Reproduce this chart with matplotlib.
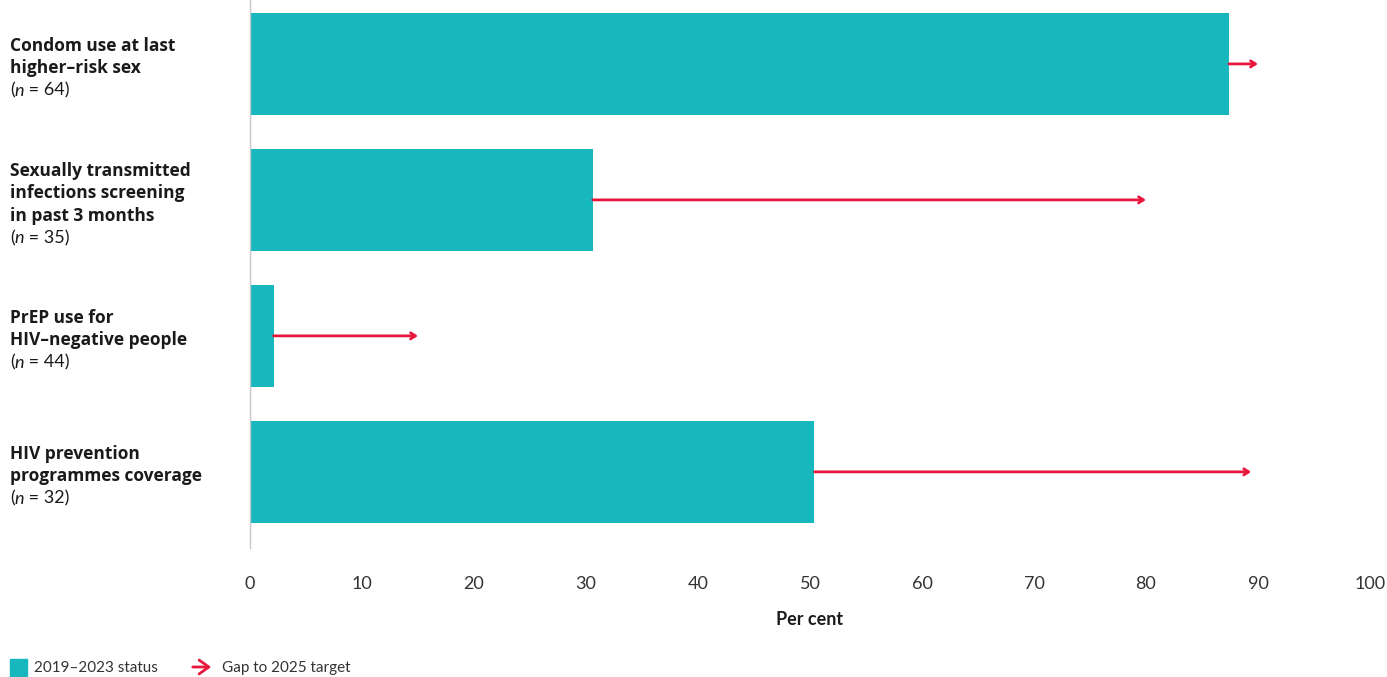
import matplotlib
matplotlib.use('Agg')
import matplotlib.pyplot as plt
from matplotlib.patches import Rectangle, FancyArrowPatch

plt.rcParams['font.family'] = ['Lato', 'DejaVu Sans']

# data
labels = [
    ['Condom use at last', 'higher\u2013risk sex'],
    ['Sexually transmitted', 'infections screening', 'in past 3 months'],
    ['PrEP use for', 'HIV\u2013negative people'],
    ['HIV prevention', 'programmes coverage'],
]
n_values = [64, 35, 44, 32]
status = [87.4, 30.6, 2.1, 50.4]
target = [90, 80, 15, 89.4]

TEAL = '#16B8BD'
RED = '#E8173D'
DARK = '#1a1a1a'

W, H = 1387, 677
fig = plt.figure(figsize=(W / 100, H / 100), dpi=100)
ax = fig.add_axes([250 / W, 1 - 548 / H, (1370 - 250) / W, 548 / H])

ypos = list(range(len(status)))
ax.barh(ypos, status, height=0.75, color=TEAL, zorder=2)
for y, s, t in zip(ypos, status, target):
    ax.annotate('', xy=(t, y), xytext=(s, y),
                arrowprops=dict(arrowstyle='->,head_length=0.35,head_width=0.22',
                                color=RED, lw=2, shrinkA=0, shrinkB=0), zorder=3)

ax.set_xlim(0, 100)
ax.set_ylim(3.56, -0.47)
ax.set_xticks(range(0, 101, 10))
ax.set_yticks([])
ax.tick_params(axis='x', length=0, pad=20, labelsize=13, labelcolor='#333333')
for side in ['top', 'right', 'bottom']:
    ax.spines[side].set_visible(False)
ax.spines['left'].set_color('#c8c8c8')
ax.spines['left'].set_linewidth(1)
ax.set_xlabel('Per cent', fontsize=13, fontweight='bold', color=DARK, labelpad=14)

# category labels on the left
line_h = 16.2  # points
shift = -3.2
for y, lines, n in zip(ypos, labels, n_values):
    total = len(lines) + 1
    for i, line in enumerate(lines):
        off = ((total - 1) / 2 - i) * line_h + shift
        ax.annotate(line, xy=(10, y), xycoords=('figure pixels', 'data'),
                    xytext=(0, off), textcoords='offset points',
                    ha='left', va='center', fontsize=12.5, fontweight='bold',
                    family=['Open Sans', 'DejaVu Sans'], color=DARK)
    off = ((total - 1) / 2 - len(lines)) * line_h + shift
    t1 = ax.annotate('(', xy=(10, y), xycoords=('figure pixels', 'data'),
                     xytext=(0, off), textcoords='offset points',
                     ha='left', va='center', fontsize=13, color=DARK)
    t2 = ax.annotate('n', xy=(1, 0), xycoords=t1, ha='left', va='bottom',
                     fontsize=13, style='italic', color=DARK)
    ax.annotate(' = %d)' % n, xy=(1, 0), xycoords=t2, ha='left', va='bottom',
                fontsize=13, color=DARK)

# legend
fig.patches.append(Rectangle((10 / W, 1 - 676 / H), 17 / W, 17 / H,
                             transform=fig.transFigure, color=TEAL))
fig.text(34 / W, 1 - 668 / H, '2019\u20132023 status', fontsize=11,
         va='center', ha='left', color='#333333')
fig.patches.append(FancyArrowPatch((190 / W, 1 - 667 / H), (214 / W, 1 - 667 / H),
                                   transform=fig.transFigure,
                                   arrowstyle='->,head_length=0.35,head_width=0.25',
                                   color=RED, lw=2, mutation_scale=20))
fig.text(222 / W, 1 - 668 / H, 'Gap to 2025 target', fontsize=11,
         va='center', ha='left', color='#333333')

fig.savefig('out.png', dpi=100)
